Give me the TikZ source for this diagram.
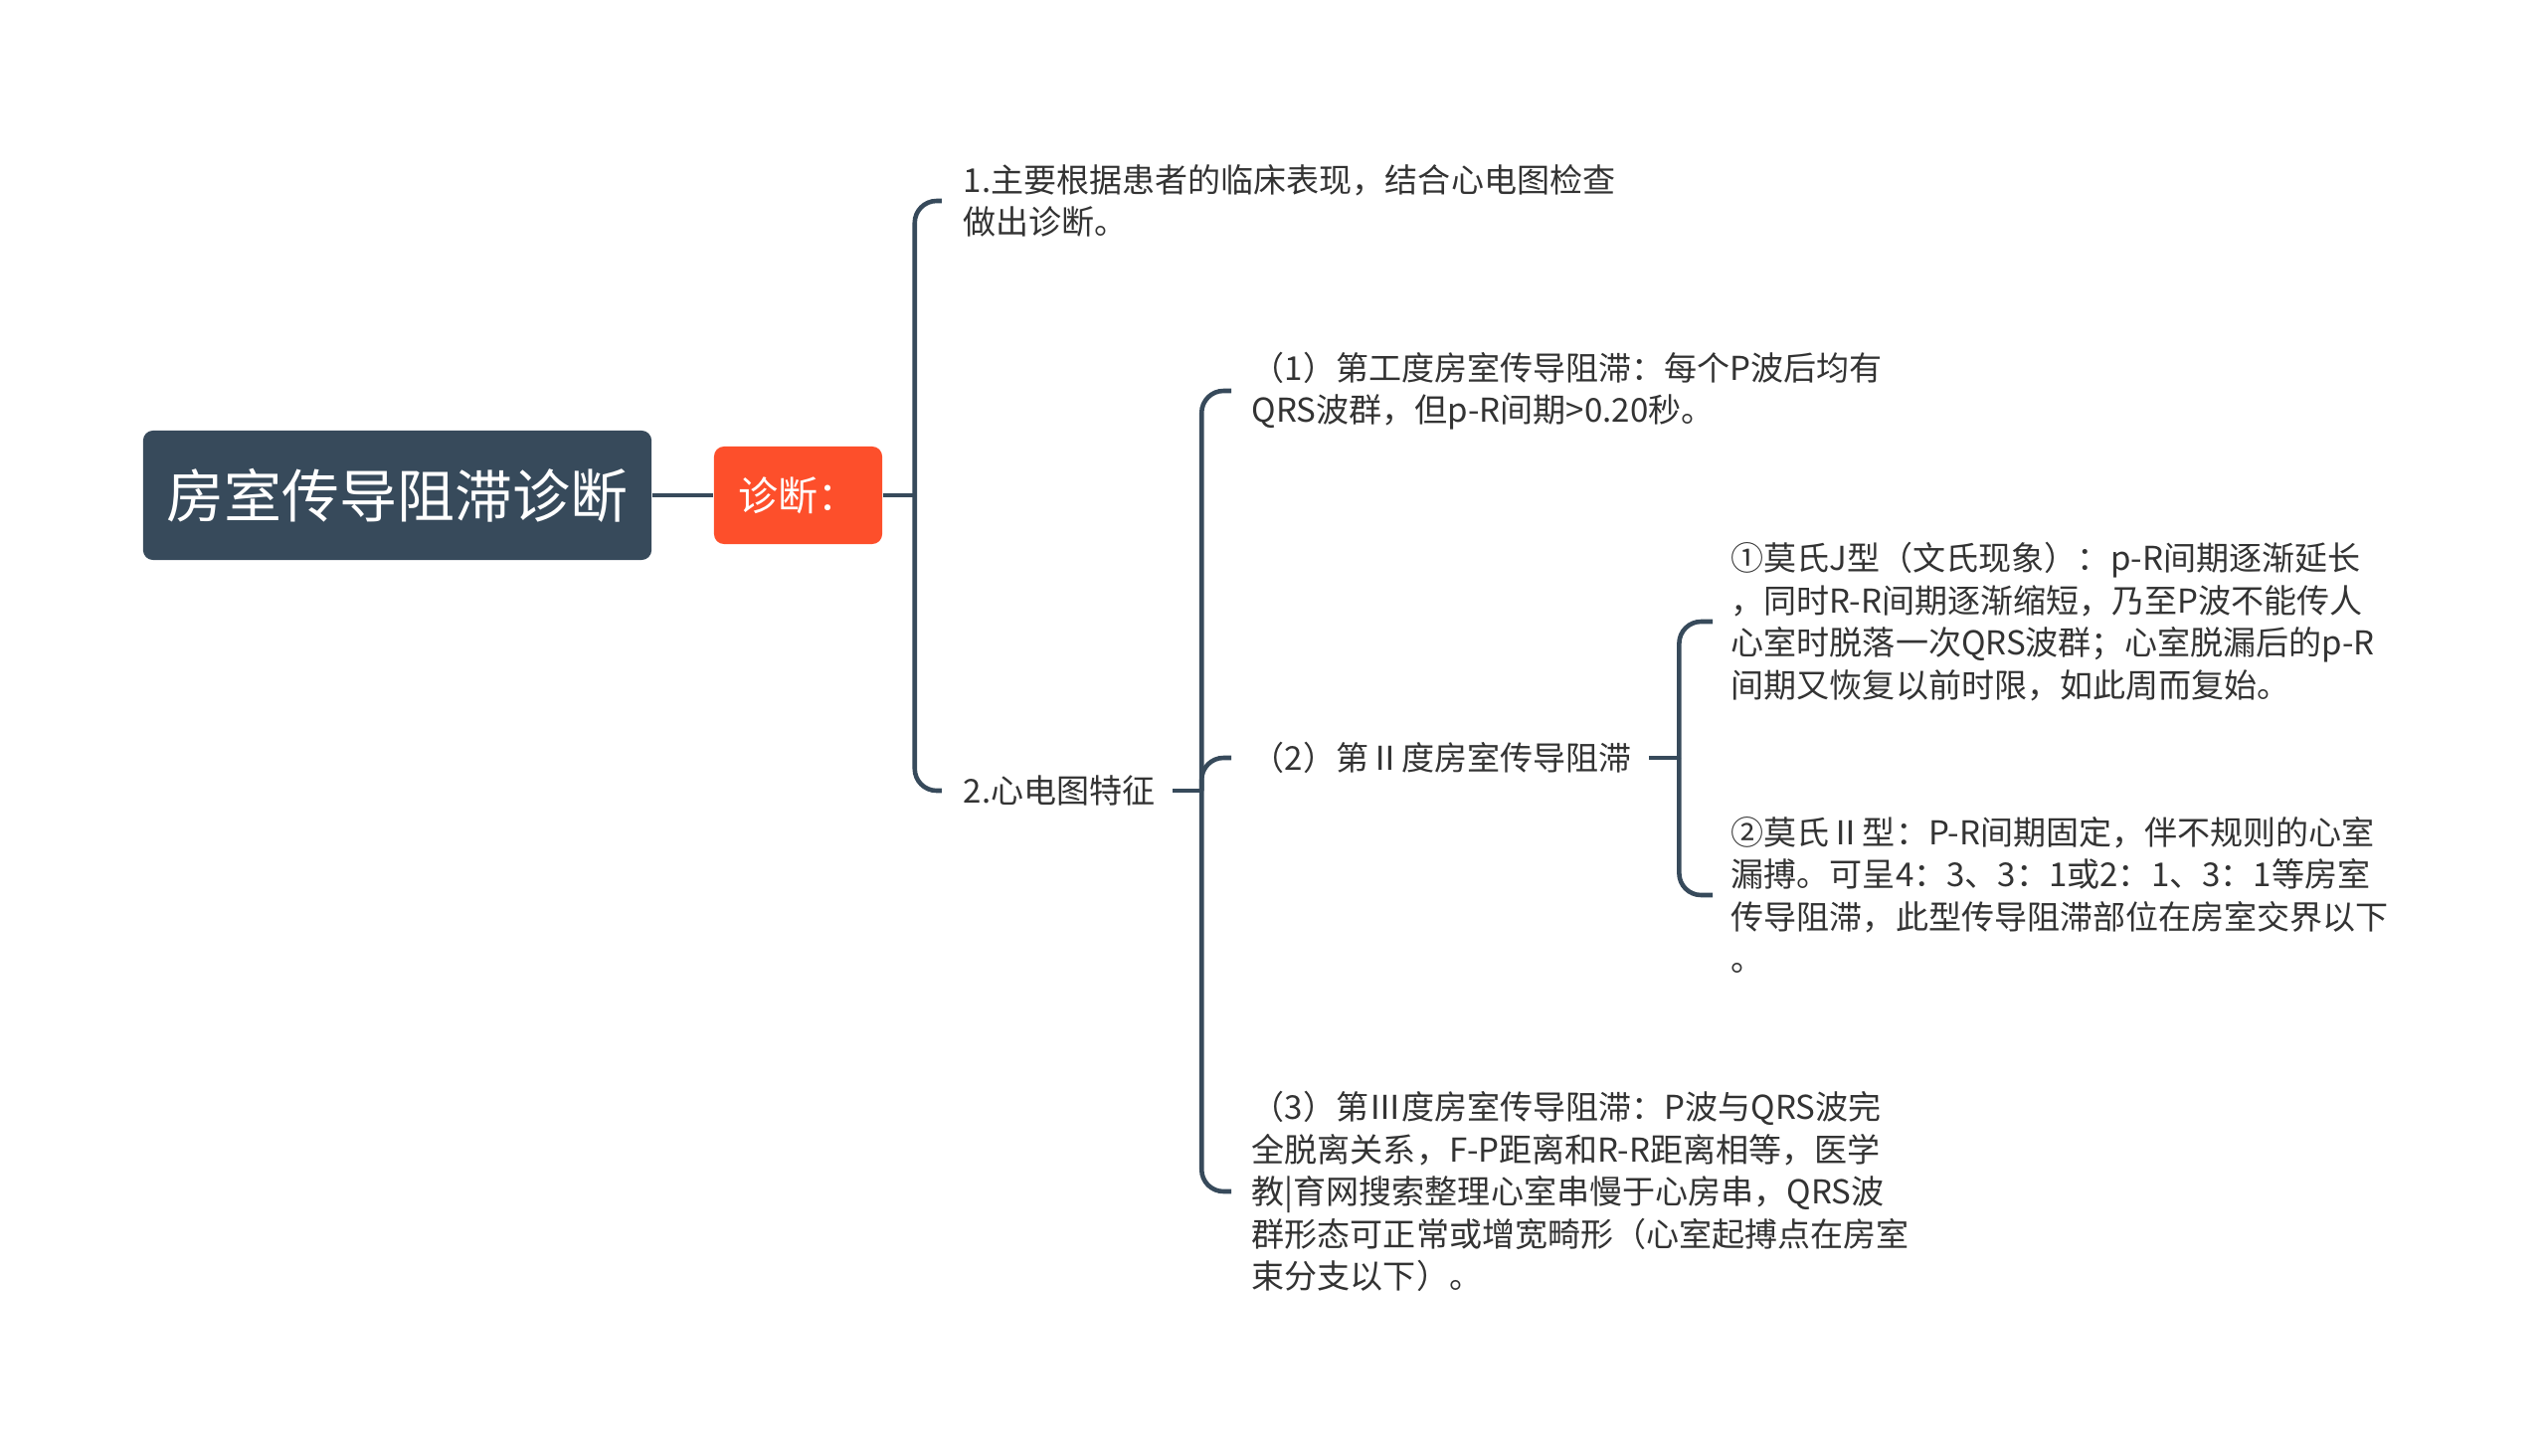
\documentclass[tikz,border=0pt]{standalone}
\usepackage{fontspec}
\setmainfont{Noto Sans CJK SC}
\usepackage{tikz}
\definecolor{slate}{HTML}{374A5B}
\definecolor{zhen}{HTML}{FD4F2B}
\definecolor{ink}{HTML}{333333}
\tikzset{every picture/.style = {x=0.01cm, y=-0.01cm}}
\tikzset{root/.style = {fill=slate, text=white, rounded corners=0.1cm, minimum width=5.11cm, minimum height=1.3cm, inner sep=0, font=\fontsize{16.5pt}{20pt}\selectfont}}
\tikzset{tag/.style = {fill=zhen, text=white, rounded corners=0.1cm, minimum width=1.69cm, minimum height=0.98cm, inner sep=0, font=\fontsize{11.4pt}{14pt}\selectfont}}
\tikzset{leaf/.style = {anchor=west, inner sep=0, align=left, text=ink, font=\fontsize{9.4pt}{12.1pt}\selectfont}}
\tikzset{conn/.style = {draw=slate, line width=1.3pt, rounded corners=0.22cm}}

\begin{document}
\begin{tikzpicture}
  \useasboundingbox (0, 0) rectangle (2560, 1463);
  \node[root] (zhu) at (399.5, 498) {房室传导阻滞诊断};
  \node[tag] (zd) at (802.5, 498) {诊断：};
  \node[leaf] (yi) at (968, 202) {1.主要根据患者的临床表现，结合心电图检查\\做出诊断。};
  \node[leaf] (er) at (968, 795) {2.心电图特征};
  \node[leaf] (c1) at (1258, 393) {（1）第工度房室传导阻滞：每个P波后均有\\QRS波群，但p-R间期>0.20秒。};
  \node[leaf] (c2) at (1258, 762) {（2）第Ⅱ度房室传导阻滞};
  \node[leaf] (c3) at (1258, 1198) {（3）第Ⅲ度房室传导阻滞：P波与QRS波完\\全脱离关系，F-P距离和R-R距离相等，医学\\教|育网搜索整理心室串慢于心房串，QRS波\\群形态可正常或增宽畸形（心室起搏点在房室\\束分支以下）。};
  \node[leaf] (d1) at (1740, 625) {①莫氏J型（文氏现象）：p-R间期逐渐延长\\，同时R-R间期逐渐缩短，乃至P波不能传人\\心室时脱落一次QRS波群；心室脱漏后的p-R\\间期又恢复以前时限，如此周而复始。};
  \node[leaf] (d2) at (1740, 900) {②莫氏Ⅱ型：P-R间期固定，伴不规则的心室\\漏搏。可呈4：3、3：1或2：1、3：1等房室\\传导阻滞，此型传导阻滞部位在房室交界以下\\。};
  % connectors
  \draw[conn] (zhu) -- (zd);
  \draw[conn] (zd.east) -- ++(32, 0) coordinate (j1);
  \foreach \k in {yi, er}
    \draw[conn] (j1) |- ([xshift=-0.21cm]\k.west);
  \draw[conn] ([xshift=0.17cm]er.east) -- ++(29, 0) coordinate (j2);
  \foreach \k in {c1, c2, c3}
    \draw[conn] (j2) |- ([xshift=-0.2cm]\k.west);
  \draw[conn] ([xshift=0.17cm]c2.east) -- ++(30, 0) coordinate (j3);
  \foreach \k in {d1, d2}
    \draw[conn] (j3) |- ([xshift=-0.18cm]\k.west);
\end{tikzpicture}
\end{document}
